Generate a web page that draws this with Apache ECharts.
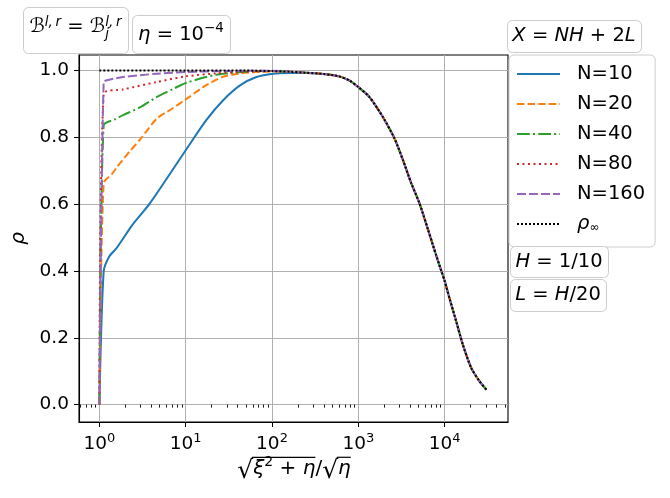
<!DOCTYPE html>
<html>
<head>
<meta charset="utf-8">
<script src="https://cdn.jsdelivr.net/npm/echarts@6/dist/echarts.min.js"></script>
<style>
html, body { margin: 0; padding: 0; background: #fff; }
#chart { width: 670px; height: 498px; }
</style>
</head>
<body>
<div id="chart"></div>
<script>
var fontFam = '"DejaVu Sans"';

// values
// shared falling part (all curves sit on rho_inf here)
var xTail = [160, 250, 400, 600, 785, 1000, 1340, 1920, 2620, 3280, 4100, 5120, 6400, 8000, 9140, 10000, 11430, 13670, 16340, 20420, 25530, 30500];
var yTail = [0.996, 0.993, 0.989, 0.982, 0.970, 0.950, 0.921, 0.861, 0.797, 0.733, 0.663, 0.602, 0.525, 0.446, 0.401, 0.371, 0.317, 0.248, 0.178, 0.109, 0.069, 0.045];

var xN10 = [1, 1.12, 1.3, 1.6, 2.4, 3.84, 10, 17.3, 27, 42.6, 66, 103, 160, 250, 400];
var yN10 = [0, 0.398, 0.443, 0.47, 0.537, 0.602, 0.761, 0.851, 0.91, 0.955, 0.98, 0.99, 0.992, 0.992, 0.989];
var xN20 = [1, 1.12, 1.4, 1.6, 2.25, 3, 4.6, 7, 10.9, 17.1, 26.6, 41, 66, 100];
var yN20 = [0, 0.662, 0.69, 0.711, 0.758, 0.795, 0.855, 0.886, 0.92, 0.955, 0.98, 0.99, 0.995, 0.997];
var xN40 = [1, 1.12, 1.5, 1.88, 2.98, 4.6, 7.2, 10.2, 22.6, 50, 100];
var yN40 = [0, 0.836, 0.853, 0.866, 0.89, 0.92, 0.945, 0.963, 0.987, 0.996, 0.998];
var xN80 = [1, 1.12, 1.88, 4.6, 10, 22.6, 50, 100];
var yN80 = [0, 0.93, 0.943, 0.965, 0.982, 0.991, 0.996, 0.998];
var xN160 = [1, 1.12, 1.3, 1.88, 4.6, 10, 30, 100];
var yN160 = [0, 0.965, 0.972, 0.98, 0.99, 0.995, 0.998, 0.999];
var xInf = [1, 10, 50, 100];
var yInf = [1.0, 1.0, 0.9995, 0.998];

var xMajor = [1, 10, 100, 1000, 10000];
var xMinor = [0.6, 0.7, 0.8, 0.9,
    2, 3, 4, 5, 6, 7, 8, 9,
    20, 30, 40, 50, 60, 70, 80, 90,
    200, 300, 400, 500, 600, 700, 800, 900,
    2000, 3000, 4000, 5000, 6000, 7000, 8000, 9000,
    20000, 30000, 40000, 50000];
var yTicks = [0, 0.2, 0.4, 0.6, 0.8, 1.0];

var seriesNames = ['N=10', 'N=20', 'N=40', 'N=80', 'N=160', 'ρ∞'];
var colors = ['#1f77b4', '#ff7f0e', '#2ca02c', '#d62728', '#9467bd', '#000000'];
var dashes = ['solid', [7.4, 3.2], [12.8, 3.2, 2, 3.2], [2, 3.5], [9, 3], [2, 2]];

function pairs(xs, ys, tailFrom) {
    var out = [];
    for (var i = 0; i < xs.length; i++) out.push([xs[i], ys[i]]);
    for (var j = tailFrom; j < xTail.length; j++) out.push([xTail[j], yTail[j]]);
    return out;
}

var seriesData = [
    pairs(xN10, yN10, 3),
    pairs(xN20, yN20, 0),
    pairs(xN40, yN40, 0),
    pairs(xN80, yN80, 0),
    pairs(xN160, yN160, 0),
    pairs(xInf, yInf, 0)
];

// small math-text helper (measures pieces, lays them side by side)
var ctx = document.createElement('canvas').getContext('2d');
ctx.textBaseline = 'middle';
function fontOf(p) { return (p.it ? 'italic ' : '') + p.s + 'px ' + fontFam; }
function measure(p) { ctx.font = fontOf(p); return ctx.measureText(p.t); }

function layoutMath(parts, cx, midY) {
    var x = 0, hold = 0, pos = [];
    parts.forEach(function (p) {
        var m = measure(p);
        pos.push({x: x, w: m.width, asc: m.actualBoundingBoxAscent});
        if (p.keep) {
            hold = Math.max(hold, m.width);
        } else {
            x += Math.max(m.width, hold);
            hold = 0;
        }
    });
    var x0 = cx - x / 2;
    var els = parts.map(function (p, i) {
        pos[i].x += x0;
        pos[i].y = midY + (p.dy || 0);
        return {
            type: 'text', x: pos[i].x, y: pos[i].y, z: 30,
            style: {text: p.t, font: fontOf(p), fill: '#000', align: 'left', verticalAlign: 'middle'}
        };
    });
    return {els: els, pos: pos};
}

function box(x, y, w, h) {
    return {
        type: 'rect', z: 25,
        shape: {x: x + 0.5, y: y + 0.5, width: w, height: h, r: 5},
        style: {fill: '#fff', stroke: '#cccccc', lineWidth: 1}
    };
}

var S = 19.5, s = 13.5;
var graphics = [];

graphics.push(box(23, 7, 105, 46));
graphics = graphics.concat(layoutMath([
    {t: 'ℬ', s: S}, {t: 'l,\u2009r', s: s, it: true, dy: -4},
    {t: ' = ', s: S}, {t: 'ℬ', s: S},
    {t: 'j', s: s, it: true, dy: 8, keep: true}, {t: 'l,\u2009r', s: s, it: true, dy: -4}
], 75.5, 26.8).els);

graphics.push(box(132, 15, 98, 38));
graphics = graphics.concat(layoutMath([
    {t: 'η', s: S, it: true}, {t: ' = 10', s: S}, {t: '−4', s: s, dy: -6.5}
], 181, 34.6).els);

graphics.push(box(507, 20, 134, 32));
graphics = graphics.concat(layoutMath([
    {t: 'X', s: S, it: true}, {t: ' = ', s: S}, {t: 'NH', s: S, it: true},
    {t: ' + 2', s: S}, {t: 'L', s: S, it: true}
], 574, 36).els);

graphics.push(box(510, 246, 98, 31));
graphics = graphics.concat(layoutMath([
    {t: 'H', s: S, it: true}, {t: ' = 1/10', s: S}
], 559, 261.5).els);

graphics.push(box(510, 279, 96, 32));
graphics = graphics.concat(layoutMath([
    {t: 'L', s: S, it: true}, {t: ' = ', s: S}, {t: 'H', s: S, it: true}, {t: '/20', s: S}
], 558, 295).els);

// x axis title  sqrt(xi^2 + eta) / sqrt(eta)
var xl = layoutMath([
    {t: '√', s: 25, dy: 2}, {t: 'ξ', s: 20, it: true}, {t: '2', s: 14, dy: -7},
    {t: ' + ', s: 20}, {t: 'η', s: 20, it: true}, {t: '/', s: 20},
    {t: '√', s: 25, dy: 2}, {t: 'η', s: 20, it: true}
], 294, 469);
graphics = graphics.concat(xl.els);
function overline(a, b) {
    var y = xl.pos[a].y - xl.pos[a].asc + 0.8;
    return {
        type: 'line', z: 30,
        shape: {x1: xl.pos[a].x + xl.pos[a].w - 1.2, y1: y, x2: xl.pos[b].x + xl.pos[b].w, y2: y},
        style: {stroke: '#000', lineWidth: 1.2}
    };
}
graphics.push(overline(0, 4));
graphics.push(overline(6, 7));

var option = {
    animation: false,
    backgroundColor: '#fff',
    grid: {
        left: 79, top: 55, width: 429, height: 367,
        show: true, borderColor: '#000', borderWidth: 1.1, backgroundColor: 'transparent'
    },
    legend: {
        orient: 'vertical',
        left: 509, top: 55,
        padding: [8, 10, 12, 7],
        itemWidth: 43, itemHeight: 14, itemGap: 8,
        backgroundColor: 'rgba(255,255,255,0.8)',
        borderColor: '#cccccc', borderWidth: 1, borderRadius: 5,
        itemStyle: {opacity: 0},
        data: seriesNames,
        formatter: function (name) {
            return name === 'ρ∞' ? '{i|ρ}{sub|∞}' : name;
        },
        textStyle: {
            color: '#000', fontFamily: fontFam, fontSize: 19.5, lineHeight: 22,
            padding: [0, 0, 0, 12],
            rich: {
                i: {fontStyle: 'italic', fontFamily: fontFam, fontSize: 19.5, lineHeight: 22, color: '#000'},
                sub: {fontFamily: fontFam, fontSize: 12, lineHeight: 22, color: '#000', padding: [8, 0, 0, 0]}
            }
        }
    },
    xAxis: [{
        type: 'log', logBase: 10,
        min: 0.58, max: 54300,
        position: 'bottom',
        axisLine: {show: true, onZero: false, lineStyle: {color: '#000', width: 1.1}},
        axisTick: {show: true, length: 5, customValues: xMajor, lineStyle: {color: '#000', width: 1}},
        axisLabel: {
            show: true, margin: 10, customValues: xMajor,
            formatter: function (v) {
                return '{b|10}{sup|' + Math.round(Math.log(v) / Math.LN10) + '}';
            },
            rich: {
                b: {fontFamily: fontFam, fontSize: 18.5, color: '#000'},
                sup: {fontFamily: fontFam, fontSize: 13, color: '#000', padding: [0, 0, 11, 0]}
            }
        },
        splitLine: {show: true, lineStyle: {color: '#b0b0b0', width: 1}},
        minorTick: {show: false},
        minorSplitLine: {show: false}
    }, {
        type: 'log', logBase: 10,
        min: 0.58, max: 54300,
        position: 'bottom',
        gridIndex: 0,
        axisLine: {show: false},
        axisTick: {show: true, length: 3, customValues: xMinor, lineStyle: {color: '#000', width: 0.9}},
        axisLabel: {show: false},
        splitLine: {show: false}
    }],
    yAxis: {
        type: 'value',
        min: -0.052, max: 1.046,
        name: 'ρ',
        nameLocation: 'middle',
        nameRotate: 90,
        nameGap: 42,
        nameTextStyle: {color: '#000', fontFamily: fontFam, fontSize: 20, fontStyle: 'italic'},
        axisLine: {show: true, onZero: false, lineStyle: {color: '#000', width: 1.1}},
        axisTick: {show: true, length: 5, customValues: yTicks, lineStyle: {color: '#000', width: 1}},
        axisLabel: {
            show: true, margin: 10, customValues: yTicks,
            color: '#000', fontFamily: fontFam, fontSize: 18.5,
            formatter: function (v) { return v.toFixed(1); }
        },
        splitLine: {show: true, lineStyle: {color: '#b0b0b0', width: 1}}
    },
    series: seriesNames.map(function (name, i) {
        return {
            name: name,
            type: 'line',
            xAxisIndex: 0,
            data: seriesData[i],
            showSymbol: false,
            symbol: 'none',
            smooth: 0.25,
            clip: true,
            lineStyle: {color: colors[i], width: 2, type: dashes[i], cap: 'butt'},
            itemStyle: {color: colors[i]},
            emphasis: {disabled: true}
        };
    }),
    graphic: graphics
};

var chart = echarts.init(document.getElementById('chart'), null, {renderer: 'canvas'});
chart.setOption(option);
</script>
</body>
</html>
